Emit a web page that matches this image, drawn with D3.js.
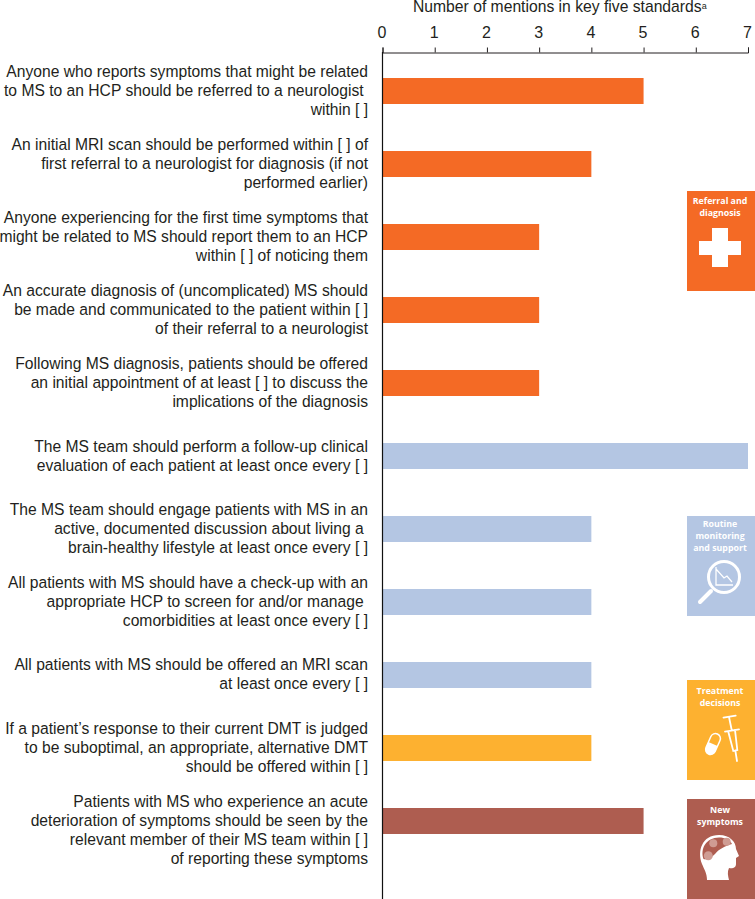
<!DOCTYPE html>
<html>
<head>
<meta charset="utf-8">
<script src="https://cdn.jsdelivr.net/npm/d3@7"></script>
<style>
  html, body { margin: 0; padding: 0; background: #fff; }
  svg { display: block; }
  text { font-family: "Liberation Sans", Arial, sans-serif; fill: #231f20; }
  .panel-title { font-family: "Open Sans", sans-serif; font-weight: 700; font-size: 8.8px; fill: #fff; }
</style>
</head>
<body>
<div id="chart"></div>
<script>
// values
const labels = [
  ["Anyone who reports symptoms that might be related", "to MS to an HCP should be referred to a neurologist ", "within [ ]"],
  ["An initial MRI scan should be performed within [ ] of", "first referral to a neurologist for diagnosis (if not", "performed earlier)"],
  ["Anyone experiencing for the first time symptoms that", "might be related to MS should report them to an HCP", "within [ ] of noticing them"],
  ["An accurate diagnosis of (uncomplicated) MS should", "be made and communicated to the patient within [ ]", "of their referral to a neurologist"],
  ["Following MS diagnosis, patients should be offered", "an initial appointment of at least [ ] to discuss the", "implications of the diagnosis"],
  ["The MS team should perform a follow-up clinical", "evaluation of each patient at least once every [ ]"],
  ["The MS team should engage patients with MS in an", "active, documented discussion about living a ", "brain-healthy lifestyle at least once every [ ]"],
  ["All patients with MS should have a check-up with an", "appropriate HCP to screen for and/or manage ", "comorbidities at least once every [ ]"],
  ["All patients with MS should be offered an MRI scan", "at least once every [ ]"],
  ["If a patient\u2019s response to their current DMT is judged", "to be suboptimal, an appropriate, alternative DMT", "should be offered within [ ]"],
  ["Patients with MS who experience an acute", "deterioration of symptoms should be seen by the", "relevant member of their MS team within [ ]", "of reporting these symptoms"]
];
const mentions = [5, 4, 3, 3, 3, 7, 4, 4, 4, 4, 5];
const groups = ["referral", "referral", "referral", "referral", "referral", "routine", "routine", "routine", "routine", "treatment", "symptoms"];
const groupKeys = ["referral", "routine", "treatment", "symptoms"];
const groupColors = ["#f46a25", "#b4c6e3", "#fdb130", "#ae5d50"];
const panelTitles = [["Referral and", "diagnosis"], ["Routine", "monitoring", "and support"], ["Treatment", "decisions"], ["New", "symptoms"]];
const panelTops = [191, 516, 680, 799];
const panelTitleY = [13, 11, 14, 14];
const axisTitle = "Number of mentions in key five standards";

const width = 755, height = 899;
const panelX = 687, panelW = 68, panelH = 100;

const svg = d3.select("#chart").append("svg")
  .attr("width", width)
  .attr("height", height);

const x = d3.scaleLinear().domain([0, 7]).range([382.5, 748]);
const y = d3.scaleBand().domain(d3.range(labels.length)).range([31, 881]).padding(0.644);
const color = d3.scaleOrdinal(groupKeys, groupColors);

// bars
svg.selectAll("rect.bar")
  .data(mentions)
  .enter()
  .append("rect")
    .attr("class", "bar")
    .attr("x", x(0))
    .attr("y", (d, i) => y(i))
    .attr("width", d => x(d) - x(0))
    .attr("height", y.bandwidth())
    .attr("fill", (d, i) => color(groups[i]));

// top axis
const axis = svg.append("g")
  .attr("transform", "translate(0,52.5)")
  .call(d3.axisTop(x).ticks(7).tickSize(5).tickSizeOuter(5).tickPadding(9.5).tickFormat(d3.format("d")));
axis.selectAll("path, line").attr("stroke", "#231f20").attr("stroke-width", 1);
axis.selectAll("text").attr("font-size", 16).attr("font-family", null).attr("dx", -1);

// vertical baseline
svg.append("line")
  .attr("x1", x(0)).attr("x2", x(0))
  .attr("y1", 52).attr("y2", height)
  .attr("stroke", "#111").attr("stroke-width", 1.2);

// axis title
const title = svg.append("text")
  .attr("x", 413)
  .attr("y", 12)
  .attr("font-size", 15.7)
  .text(axisTitle);
title.append("tspan").attr("font-size", 9).attr("dy", -3).text("a");

// category labels
const labelG = svg.selectAll("text.label")
  .data(labels)
  .enter()
  .append("text")
    .attr("class", "label")
    .attr("text-anchor", "end")
    .attr("font-size", 15.65)
    .style("white-space", "pre")
    .attr("transform", (d, i) => `translate(368,${y(i) + y.bandwidth() / 2 + 5 + (d.length == 2 ? -9.5 : -19)})`);
labelG.selectAll("tspan")
  .data(d => d)
  .enter()
  .append("tspan")
    .attr("x", 0)
    .attr("y", (d, i) => i * 19)
    .text(d => d);

// side panels
const panels = svg.selectAll("g.panel")
  .data(groupKeys)
  .enter()
  .append("g")
    .attr("class", "panel")
    .attr("transform", (d, i) => `translate(${panelX},${panelTops[i]})`);
panels.append("rect")
  .attr("width", panelW)
  .attr("height", panelH)
  .attr("fill", d => color(d));
panels.each(function(d, i) {
  d3.select(this).selectAll("text")
    .data(panelTitles[i])
    .enter()
    .append("text")
      .attr("class", "panel-title")
      .attr("text-anchor", "middle")
      .attr("x", panelW / 2 - 1)
      .attr("y", (t, j) => panelTitleY[i] + j * 12)
      .text(t => t);
});

const white = "#fff";

// referral icon: cross
const cross = panels.filter(d => d == "referral");
cross.append("path")
  .attr("d", "M25,37H41V50H54V64H41V76H25V64H12V50H25Z")
  .attr("fill", white);

// routine icon: magnifier over a falling line
const lens = panels.filter(d => d == "routine");
lens.append("circle")
  .attr("cx", 37).attr("cy", 61).attr("r", 15.5)
  .attr("fill", "none").attr("stroke", white).attr("stroke-width", 3);
lens.append("path")
  .attr("d", "M24,75L13,86")
  .attr("stroke", white).attr("stroke-width", 4).attr("stroke-linecap", "round");
lens.append("path")
  .attr("d", "M29,51V69H46M29,53L37,62L40,60L45,66")
  .attr("fill", "none").attr("stroke", white).attr("stroke-width", 1.3);

// treatment icon: capsule and syringe
const meds = panels.filter(d => d == "treatment");
meds.append("rect")
  .attr("x", 21).attr("y", 53).attr("width", 10).attr("height", 22).attr("rx", 5)
  .attr("fill", "none").attr("stroke", white).attr("stroke-width", 1.5)
  .attr("transform", "rotate(24,26,64)");
meds.append("path")
  .attr("d", "M21,64H31V70A5,5 0 0 1 21,70Z")
  .attr("fill", white)
  .attr("transform", "rotate(24,26,64)");
meds.append("path")
  .attr("d", "M36.5,37.7L48.7,35.7M42,37L44.7,50M38,51.7L52,49.3M41.3,51.7L46.3,71L50.3,70L48,50M48.3,70.3L50,81")
  .attr("fill", "none").attr("stroke", white).attr("stroke-width", 1.8).attr("stroke-linecap", "round");

// new symptoms icon: head with spots
const head = panels.filter(d => d == "symptoms");
head.append("path")
  .attr("d", "M20,81C20,74 17,70 15,65C10,52 15,36 32,36C43,36 49,43 49,50L52,57L49,59L49,65C49,69 45,70 42,69C40,73 41,77 42,81Z")
  .attr("fill", white);
head.append("path")
  .attr("d", "M16.5,60C13,50 19,38.5 32,38.5C38,38.5 43,41 45,45C38,47 32,50 28,55C24,59 20,61 16.5,60Z")
  .attr("fill", color("symptoms"));
head.selectAll("circle")
  .data([[26.3, 44.3, 4], [39.7, 42.7, 4], [21.3, 56.7, 4.5]])
  .enter()
  .append("circle")
    .attr("cx", d => d[0]).attr("cy", d => d[1]).attr("r", d => d[2])
    .attr("fill", "#cf9c93");
</script>
</body>
</html>
